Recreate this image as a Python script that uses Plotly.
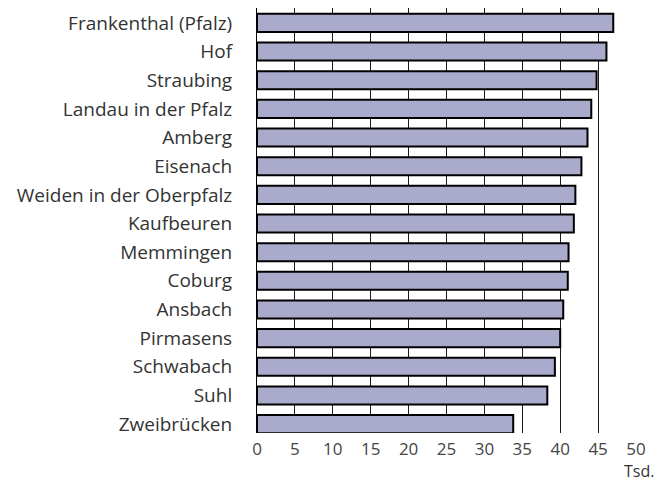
import plotly.graph_objects as go

cities = ["Frankenthal (Pfalz)", "Hof", "Straubing", "Landau in der Pfalz", "Amberg",
          "Eisenach", "Weiden in der Oberpfalz", "Kaufbeuren", "Memmingen", "Coburg",
          "Ansbach", "Pirmasens", "Schwabach", "Suhl", "Zweibrücken"]
values = [47.0, 46.1, 44.8, 44.1, 43.6, 42.8, 42.0, 41.8, 41.1, 41.0,
          40.4, 40.0, 39.3, 38.3, 33.8]
x_ticks = [0, 5, 10, 15, 20, 25, 30, 35, 40, 45, 50]
unit_label = "Tsd."

font_family = "Open Sans, Noto Sans, sans-serif"

fig = go.Figure(go.Bar(
    x=values, y=cities, orientation="h",
    marker=dict(color="#aaaacc", line=dict(color="#000000", width=2)),
    width=0.63,
))

fig.update_layout(
    width=663, height=482,
    margin=dict(l=257, r=27, t=8, b=49),
    paper_bgcolor="white", plot_bgcolor="white",
    showlegend=False,
    font=dict(family=font_family, size=19, color="#333333"),
    xaxis=dict(
        range=[0, 50], tickvals=x_ticks, ticktext=[str(v) for v in x_ticks],
        showgrid=True, gridcolor="#1a1a1a", gridwidth=1,
        zeroline=False, showline=False,
        ticks="", ticklabelstandoff=4,
        tickfont=dict(size=17, color="#444444"),
        fixedrange=True,
    ),
    yaxis=dict(
        categoryorder="array", categoryarray=cities,
        autorange=False, range=[14.31, -0.52],
        showgrid=False, zeroline=False,
        showline=True, linecolor="#000000", linewidth=1,
        ticks="", ticklabelstandoff=20,
        tickfont=dict(size=19, color="#333333"),
        fixedrange=True,
    ),
    annotations=[dict(
        text=unit_label, xref="paper", yref="paper", x=1.05, y=-0.0895,
        xanchor="right", yanchor="middle", showarrow=False, borderpad=0,
        font=dict(size=16, color="#333333", family=font_family),
    )],
)

fig.write_html("out.html", config={"displayModeBar": False},
               post_script="document.body.style.margin='0';")
